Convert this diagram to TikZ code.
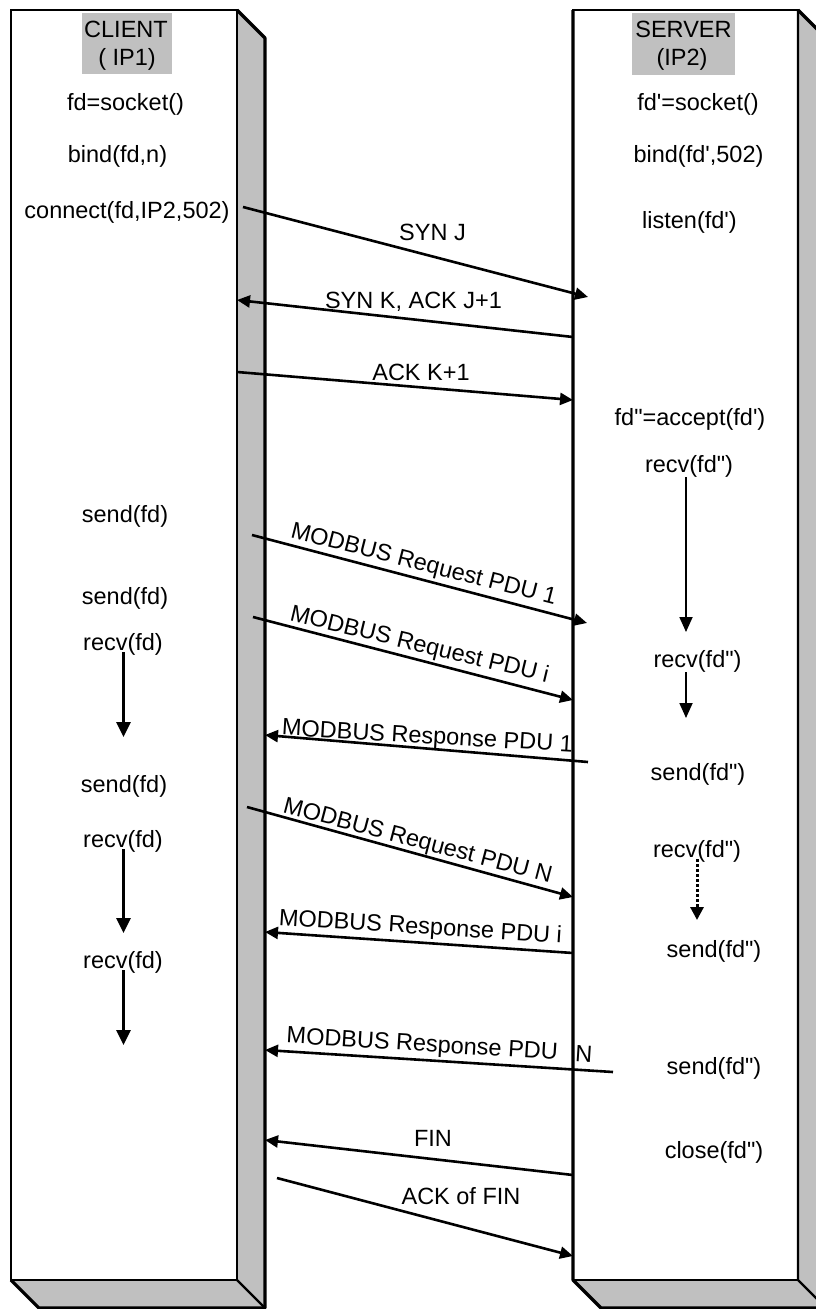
\documentclass[tikz,border=0pt]{standalone}
\usepackage{fontspec}
\setmainfont{Liberation Sans}
\usetikzlibrary{arrows.meta}
\definecolor{boxgray}{HTML}{C0C0C0}
\newcommand\fdp{fd\textquotesingle}
\newcommand\fdpp{fd\textquotedbl}

\begin{document}
\begin{tikzpicture}[x=1pt,y=-1pt,
  every node/.style={font=\fontsize{23.5}{28}\selectfont, inner sep=0pt, text=black},
  txt/.style={anchor=base},
  face/.style={fill=white, draw=black, line width=1.6pt},
  outline/.style={draw=black, line width=3.2pt, line join=round},
  msg/.style={line width=2.6pt, -{Triangle[length=13pt,width=12pt]}},
  flow/.style={line width=3pt, -{Triangle[length=15pt,width=14pt]}},
  thinflow/.style={line width=1.8pt, -{Triangle[length=15pt,width=13pt]}},
  dotflow/.style={line width=3pt, dotted, -{Triangle[length=13pt,width=13pt]}}
]
\useasboundingbox (0,0) rectangle (816,1309);
\clip (0,0) rectangle (816,1309);
\fill[white] (0,0) rectangle (816,1309);

% ---- client block ----
\fill[boxgray] (237,10) -- (265,38) -- (265,1308) -- (39,1308) -- (11,1280) -- (237,1280) -- cycle;
\draw[face] (11,10) rectangle (237,1280);
\draw[line width=2.4pt] (237,1280) -- (265,1308);
\draw[outline] (237,10) -- (265,38) -- (265,1308) -- (39,1308) -- (11,1280);

% ---- server block ----
\fill[boxgray] (798,10) -- (826,38) -- (826,1308) -- (601,1308) -- (573,1280) -- (798,1280) -- cycle;
\draw[face] (573,10) rectangle (798,1280);
\draw[line width=2.4pt] (798,10) -- (798,1280) -- (826,1308);
\draw[outline] (798,10) -- (826,38) -- (826,1308) -- (601,1308) -- (573,1280) -- (573,10);

% ---- headers ----
\fill[boxgray] (82,13) rectangle (172,74);
\fill[boxgray] (632,13) rectangle (735,75);
\node[txt] (cl1) at (126,37) {CLIENT};
\node[txt] (cl2) at (127,65) {( IP1)};
\node[txt] (sv1) at (683.5,37) {SERVER};
\node[txt] (sv2) at (682,65) {(IP2)};

% ---- client calls ----
\node[txt] (csock) at (125.5,110) {fd=socket()};
\node[txt] (cbind) at (117.5,162) {bind(fd,n)};
\node[txt] (cconn) at (127,218) {connect(fd,IP2,502)};
\node[txt] (csend1) at (125,522) {send(fd)};
\node[txt] (csend2) at (125,604) {send(fd)};
\node[txt] (crecv1) at (123,650) {recv(fd)};
\node[txt] (csend3) at (124,792) {send(fd)};
\node[txt] (crecv2) at (123,847) {recv(fd)};
\node[txt] (crecv3) at (123,968) {recv(fd)};

% ---- server calls ----
\node[txt] (ssock) at (698,110) {\fdp=socket()};
\node[txt] (sbind) at (698.5,162) {bind(\fdp,502)};
\node[txt] (slisten) at (689.5,228) {listen(\fdp)};
\node[txt] (saccept) at (690,425) {\fdpp=accept(\fdp)};
\node[txt] (srecv1) at (689,472) {recv(\fdpp)};
\node[txt] (srecv2) at (697.5,667) {recv(\fdpp)};
\node[txt] (ssend1) at (698,780) {send(\fdpp)};
\node[txt] (srecv3) at (697,857) {recv(\fdpp)};
\node[txt] (ssend2) at (714,957) {send(\fdpp)};
\node[txt] (ssend3) at (714,1074) {send(\fdpp)};
\node[txt] (sclose) at (714,1158) {close(\fdpp)};

% ---- local control flow ----
\coordinate (cf1a) at (123.5,652); \coordinate (cf1b) at (123.5,737);
\coordinate (cf2a) at (123.5,849); \coordinate (cf2b) at (123.5,933);
\coordinate (cf3a) at (123.5,970); \coordinate (cf3b) at (123.5,1045);
\draw[flow] (cf1a) -- (cf1b);
\draw[flow] (cf2a) -- (cf2b);
\draw[flow] (cf3a) -- (cf3b);
\coordinate (sf1a) at (686,477); \coordinate (sf1b) at (686,632);
\coordinate (sf2a) at (686,672); \coordinate (sf2b) at (686,718);
\coordinate (sf3a) at (697,859); \coordinate (sf3b) at (697,920);
\draw[thinflow] (sf1a) -- (sf1b);
\draw[thinflow] (sf2a) -- (sf2b);
\draw[dotflow] (sf3a) -- (sf3b);

% ---- messages ----
\coordinate (m1a) at (243,207);  \coordinate (m1b) at (588,297);
\coordinate (m2a) at (573,337);  \coordinate (m2b) at (237,300);
\coordinate (m3a) at (237,372);  \coordinate (m3b) at (573,400);
\coordinate (m4a) at (252,535);  \coordinate (m4b) at (587,623);
\coordinate (m5a) at (253,617);  \coordinate (m5b) at (573,700);
\coordinate (m6a) at (588,762);  \coordinate (m6b) at (265,735);
\coordinate (m7a) at (247,807);  \coordinate (m7b) at (573,897);
\coordinate (m8a) at (573,953);  \coordinate (m8b) at (265,932);
\coordinate (m9a) at (613,1072); \coordinate (m9b) at (265,1050);
\coordinate (m10a) at (573,1175); \coordinate (m10b) at (265,1140);
\coordinate (m11a) at (277,1178); \coordinate (m11b) at (573,1256);
\foreach \m in {1,...,11} \draw[msg] (m\m a) -- (m\m b);

\node[txt] (lsynj) at (432.5,240) {SYN J};
\node[txt] (lsynk) at (413.5,308) {SYN K, ACK J+1};
\node[txt] (lackk) at (421,380) {ACK K+1};
\node[txt, rotate=-14.3] (lreq1) at (422,571) {MODBUS Request PDU 1};
\node[txt, rotate=-13.6] (lreqi) at (418,651.5) {MODBUS Request PDU i};
\node[txt, rotate=-3.4] (lresp1) at (427,743.5) {MODBUS Response PDU 1};
\node[txt, rotate=-14.8] (lreqn) at (416,847.5) {MODBUS Request PDU N};
\node[txt, rotate=-3.6] (lrespi) at (420,934) {MODBUS Response PDU i};
\node[txt, rotate=-3.6] (lrespn) at (439,1052.5) {MODBUS Response PDU\hspace{11pt} N};
\node[txt] (lfin) at (433,1146) {FIN};
\node[txt] (lackfin) at (461,1204) {ACK of FIN};
\end{tikzpicture}
\end{document}
